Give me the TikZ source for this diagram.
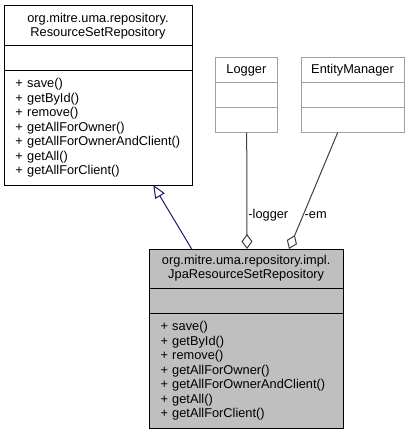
\documentclass[tikz,border=0pt]{standalone}
\usepackage{fontspec}
\setmainfont{Liberation Sans}
\usetikzlibrary{positioning,arrows.meta}
\definecolor{edgegray}{HTML}{404040}
\definecolor{boxgray}{HTML}{A0A0A0}
\definecolor{classfill}{HTML}{BFBFBF}
\definecolor{navyline}{HTML}{191970}
\begin{document}
\begin{tikzpicture}[x=1pt, y=-1pt,
        every node/.style={font=\fontsize{12.8}{14}\selectfont},
        part/.style={draw, line width=1pt, inner sep=0pt, outer sep=0pt},
        ops/.style={part, align=left, inner xsep=11.5pt,
                    font=\fontsize{12.8}{14.5}\selectfont}]
    \path[fill=white] (0,0) rectangle (413,433);

    % interface
    \node[part, anchor=north west, minimum width=188pt, minimum height=40pt, align=center] (RSR) at (4,6)
        {org.mitre.uma.repository.\\ResourceSetRepository};
    \node[part, below=0pt of RSR, minimum width=188pt, minimum height=25pt] (RSRattr) {};
    \node[ops, below=0pt of RSRattr, text width=165pt, minimum height=114pt] (RSRops)
        {+ save()\\+ getById()\\+ remove()\\+ getAllForOwner()\\+ getAllForOwnerAndClient()\\+ getAll()\\+ getAllForClient()};

    % Logger
    \node[part, draw=boxgray, anchor=north west, minimum width=62.7pt, minimum height=25pt] (Log) at (215,57.5) {Logger};
    \node[part, draw=boxgray, below=0pt of Log, minimum width=62.7pt, minimum height=25pt] (Logattr) {};
    \node[part, draw=boxgray, below=0pt of Logattr, minimum width=62.7pt, minimum height=25pt] (Logops) {};

    % EntityManager
    \node[part, draw=boxgray, anchor=north west, minimum width=103pt, minimum height=25pt] (EM) at (301,57.5) {EntityManager};
    \node[part, draw=boxgray, below=0pt of EM, minimum width=103pt, minimum height=25pt] (EMattr) {};
    \node[part, draw=boxgray, below=0pt of EMattr, minimum width=103pt, minimum height=25pt] (EMops) {};

    % implementation
    \node[part, fill=classfill, anchor=north west, minimum width=194.3pt, minimum height=39.3pt, align=center] (Jpa) at (149,249)
        {org.mitre.uma.repository.impl.\\JpaResourceSetRepository};
    \node[part, fill=classfill, below=0pt of Jpa, minimum width=194.3pt, minimum height=25.4pt] (Jpaattr) {};
    \node[ops, fill=classfill, below=0pt of Jpaattr, text width=171.3pt, minimum height=114.3pt] (Jpaops)
        {+ save()\\+ getById()\\+ remove()\\+ getAllForOwner()\\+ getAllForOwnerAndClient()\\+ getAll()\\+ getAllForClient()};

    \draw[navyline, line width=1pt, -{Triangle[open, length=13pt, width=11pt]}]
        ([xshift=42.7pt]Jpa.north west) -- ([xshift=149.3pt]RSRops.south west);
    \draw[edgegray, line width=1pt, -{Diamond[open, length=15pt, width=11pt]}]
        ([xshift=31.7pt]Logops.south west) -- node[pos=0.71, right, inner sep=1pt, text=black] {-logger} ([xshift=98pt]Jpa.north west);
    \draw[edgegray, line width=1pt, -{Diamond[open, length=15pt, width=11pt]}]
        ([xshift=36.7pt]EMops.south west) -- node[pos=0.71, right, inner sep=1pt, text=black] {-em} ([xshift=140pt]Jpa.north west);
\end{tikzpicture}
\end{document}
